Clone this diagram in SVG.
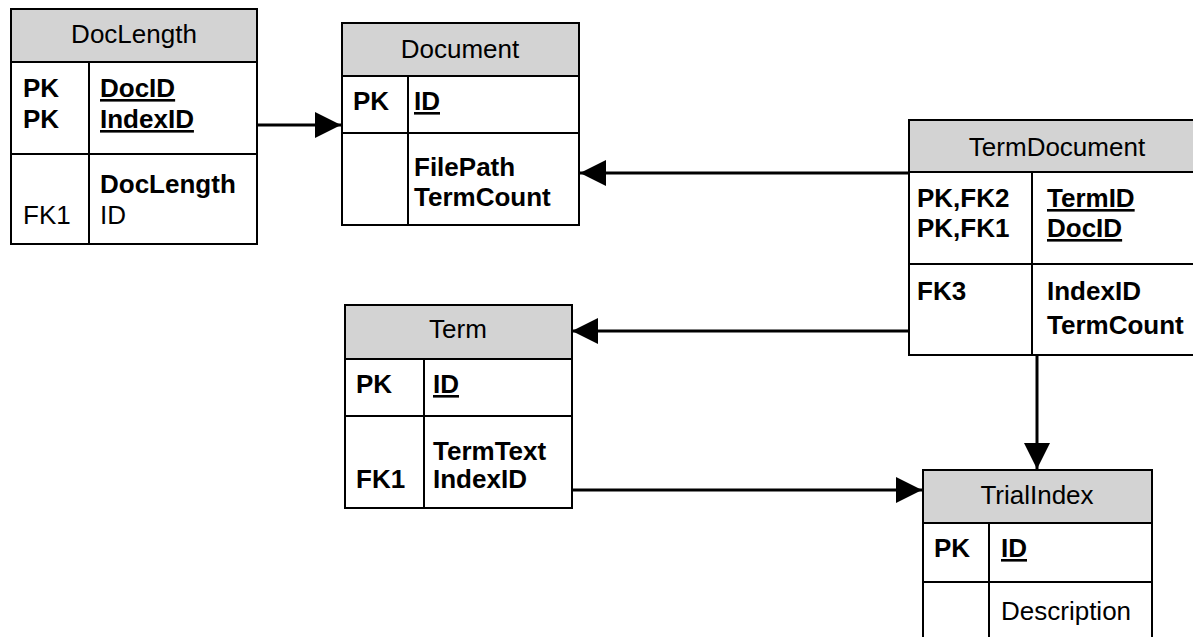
<svg xmlns="http://www.w3.org/2000/svg" width="1193" height="637" viewBox="0 0 1193 637">
<style>
.box{fill:#fff;stroke:#000;stroke-width:2}
.hdr{fill:#d3d3d3;stroke:#000;stroke-width:2}
.ln{stroke:#000;stroke-width:2;fill:none}
.t{font-family:"Liberation Sans",Arial,sans-serif;font-size:26px;fill:#000}
.h{text-anchor:middle}
.b{font-weight:bold}
.u{text-decoration:underline}
.con{stroke:#000;stroke-width:3;fill:none;marker-end:url(#ah)}
</style>
<defs>
<marker id="ah" markerUnits="userSpaceOnUse" markerWidth="26" markerHeight="26" refX="26" refY="13" orient="auto">
<path d="M0,0 L26,13 L0,26 z" fill="#000"/>
</marker>
</defs>
<rect width="1193" height="637" fill="#fff"/>
<g id="connectors">
<line class="con" x1="257" y1="125" x2="341" y2="125"/>
<line class="con" x1="909" y1="173" x2="580" y2="173"/>
<line class="con" x1="909" y1="331" x2="572" y2="331"/>
<line class="con" x1="572" y1="490" x2="922" y2="490"/>
<line class="con" x1="1037" y1="355" x2="1037" y2="469"/>
</g>
<g id="DocLength">
<rect class="box" x="11" y="9" width="246" height="235"/>
<rect class="hdr" x="11" y="9" width="246" height="53"/>
<line class="ln" x1="11" y1="154" x2="257" y2="154"/>
<line class="ln" x1="89" y1="62" x2="89" y2="244"/>
<text class="t h" x="134" y="43">DocLength</text>
<text class="t b" x="23" y="97">PK</text>
<text class="t b" x="23" y="128">PK</text>
<text class="t b u" x="100" y="97">DocID</text>
<text class="t b u" x="100" y="128">IndexID</text>
<text class="t b" x="100" y="193">DocLength</text>
<text class="t" x="23" y="224">FK1</text>
<text class="t" x="100" y="224">ID</text>
</g>
<g id="Document">
<rect class="box" x="342" y="23" width="237" height="202"/>
<rect class="hdr" x="342" y="23" width="237" height="53"/>
<line class="ln" x1="342" y1="133" x2="579" y2="133"/>
<line class="ln" x1="408" y1="76" x2="408" y2="225"/>
<text class="t h" x="460" y="58">Document</text>
<text class="t b" x="353" y="110">PK</text>
<text class="t b u" x="414" y="110">ID</text>
<text class="t b" x="414" y="176">FilePath</text>
<text class="t b" x="414" y="206">TermCount</text>
</g>
<g id="TermDocument">
<rect class="box" x="909" y="120" width="296" height="235"/>
<rect class="hdr" x="909" y="120" width="296" height="52"/>
<line class="ln" x1="909" y1="264" x2="1205" y2="264"/>
<line class="ln" x1="1032" y1="172" x2="1032" y2="355"/>
<text class="t h" x="1057" y="156">TermDocument</text>
<text class="t b" x="917" y="207">PK,FK2</text>
<text class="t b" x="917" y="237">PK,FK1</text>
<text class="t b u" x="1047" y="207">TermID</text>
<text class="t b u" x="1047" y="237">DocID</text>
<text class="t b" x="917" y="300">FK3</text>
<text class="t b" x="1047" y="300">IndexID</text>
<text class="t b" x="1047" y="334">TermCount</text>
</g>
<g id="Term">
<rect class="box" x="345" y="305" width="227" height="203"/>
<rect class="hdr" x="345" y="305" width="227" height="54"/>
<line class="ln" x1="345" y1="416" x2="572" y2="416"/>
<line class="ln" x1="424" y1="359" x2="424" y2="508"/>
<text class="t h" x="458" y="338">Term</text>
<text class="t b" x="356" y="393">PK</text>
<text class="t b u" x="433" y="393">ID</text>
<text class="t b" x="433" y="460">TermText</text>
<text class="t b" x="356" y="488">FK1</text>
<text class="t b" x="433" y="488">IndexID</text>
</g>
<g id="TrialIndex">
<rect class="box" x="923" y="470" width="229" height="180"/>
<rect class="hdr" x="923" y="470" width="229" height="53"/>
<line class="ln" x1="923" y1="582" x2="1152" y2="582"/>
<line class="ln" x1="989" y1="523" x2="989" y2="650"/>
<text class="t h" x="1037" y="504">TrialIndex</text>
<text class="t b" x="934" y="557">PK</text>
<text class="t b u" x="1001" y="557">ID</text>
<text class="t" x="1001" y="620">Description</text>
</g>
</svg>
